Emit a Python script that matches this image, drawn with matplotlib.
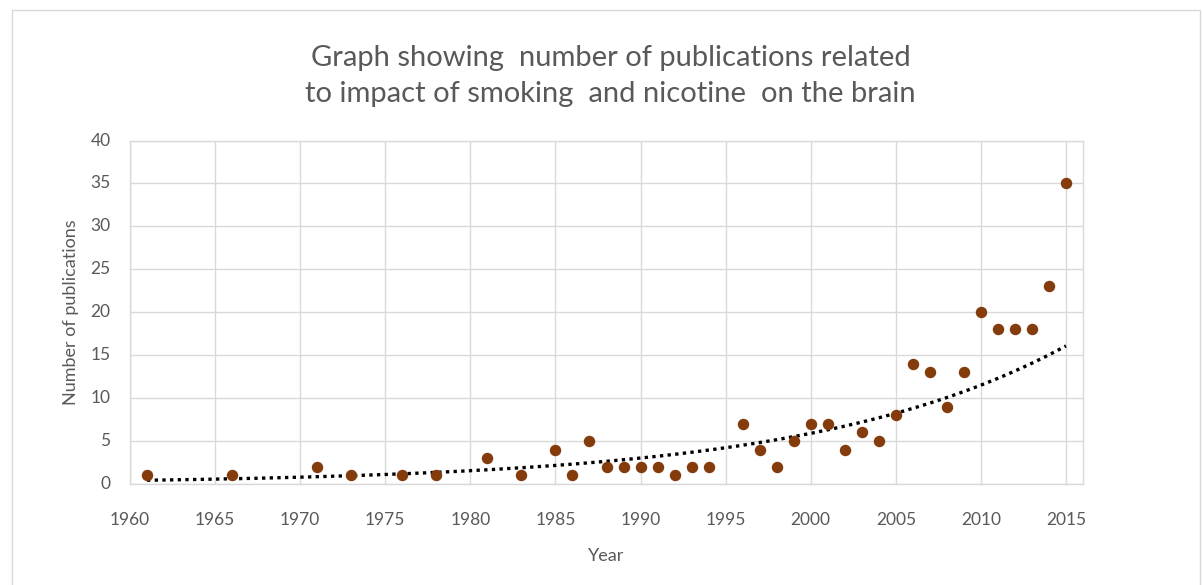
import numpy as np
import matplotlib.pyplot as plt
from matplotlib.patches import Rectangle

years = [1961, 1966, 1971, 1973, 1976, 1978, 1981, 1983, 1985, 1986, 1987,
         1988, 1989, 1990, 1991, 1992, 1993, 1994, 1996, 1997, 1998, 1999,
         2000, 2001, 2002, 2003, 2004, 2005, 2006, 2007, 2008, 2009, 2010,
         2011, 2012, 2013, 2014, 2015]
counts = [1, 1, 2, 1, 1, 1, 3, 1, 4, 1, 5,
          2, 2, 2, 2, 1, 2, 2, 7, 4, 2, 5,
          7, 7, 4, 6, 5, 8, 14, 13, 9, 13, 20,
          18, 18, 18, 23, 35]
x_ticks = [1960, 1965, 1970, 1975, 1980, 1985, 1990, 1995, 2000, 2005, 2010, 2015]
y_ticks = [0, 5, 10, 15, 20, 25, 30, 35, 40]

title = "Graph showing  number of publications related\nto impact of smoking  and nicotine  on the brain"

plt.rcParams['font.family'] = ['Lato', 'DejaVu Sans']
grey = '#595959'

fig = plt.figure(figsize=(12.02, 5.85), dpi=100)
fig.patches.append(Rectangle((12 / 1202, -0.1), 1188 / 1202, 1.1 - 10.5 / 585,
                             transform=fig.transFigure, fill=False,
                             edgecolor='#d9d9d9', linewidth=1))
ax = fig.add_axes([130 / 1202, 1 - 484 / 585, 953 / 1202, 343.5 / 585])

# exponential trendline, least squares on log(y) like Excel does
b, a = np.polyfit(years, np.log(counts), 1)
tx = np.linspace(years[0], years[-1], 300)
ax.plot(tx, np.exp(a + b * tx), color='black', linewidth=2.4,
        linestyle=(0, (1, 1.3)), zorder=3)
ax.scatter(years, counts, s=68, color='#843c0c', zorder=4, linewidths=0)

ax.set_xlim(1960, 2016)
ax.set_ylim(0, 40)
ax.set_xticks(x_ticks)
ax.set_yticks(y_ticks)
ax.grid(True, color='#d9d9d9', linewidth=1)
ax.set_axisbelow(True)
for s in ax.spines.values():
    s.set_color('#d9d9d9')
    s.set_linewidth(1)
ax.tick_params(axis='x', length=0, colors=grey, labelsize=12.5, pad=26)
ax.tick_params(axis='y', length=0, colors=grey, labelsize=12.5, pad=14)
for lbl in ax.get_xticklabels() + ax.get_yticklabels():
    lbl.set_va('center')

ax.set_xlabel('Year', color=grey, fontsize=13, labelpad=14)
ax.set_ylabel('Number of publications', color=grey, fontsize=13, labelpad=8)
fig.text(0.508, 1 - 76 / 585, title, ha='center', va='center', color=grey,
         fontsize=21, linespacing=1.5)

fig.savefig('out.png', dpi=100)
